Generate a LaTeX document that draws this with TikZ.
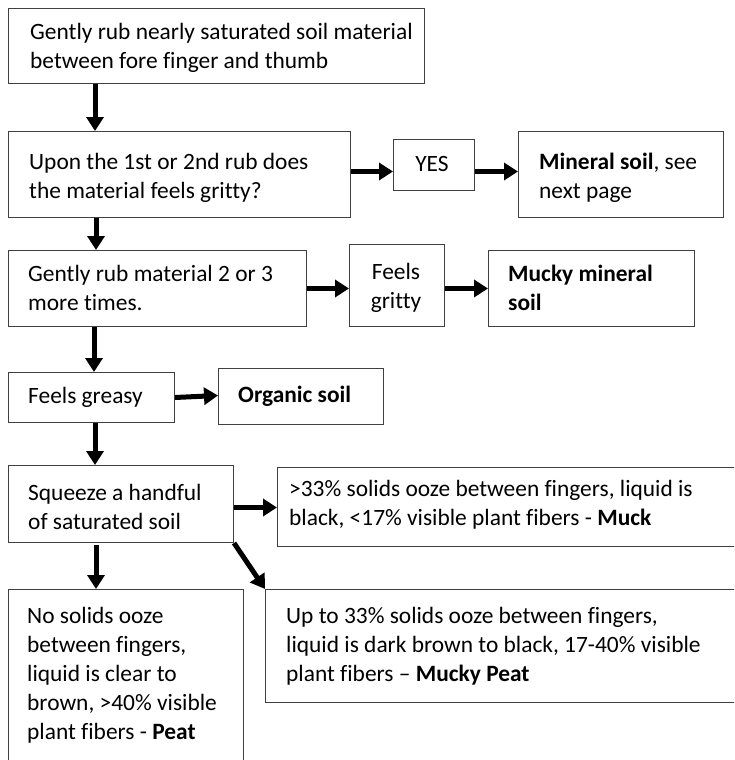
\documentclass[tikz,border=0pt]{standalone}
\usepackage{fontspec}
\setmainfont{Carlito}[Ligatures=CommonOff]
\usetikzlibrary{arrows.meta}
\begin{document}
\begin{tikzpicture}[x=1pt,y=-1pt,
  box/.style={draw=black!75, line width=1pt, rectangle, inner sep=0pt, anchor=north west},
  txt/.style={inner sep=0pt, align=left, anchor=west, font=\fontsize{23.4}{29}\selectfont},
  ctxt/.style={inner sep=0pt, align=center, anchor=center, font=\fontsize{23.4}{29}\selectfont},
  arr/.style={line width=5pt, -{Triangle[length=14pt,width=17pt]}}]
\useasboundingbox (0,0) rectangle (734,760);
\clip (0,0) rectangle (734,760);
% boxes
\node[box, minimum width=416pt, minimum height=75pt] (b1) at (8,8) {};
\node[box, minimum width=342pt, minimum height=86pt] (b2) at (8,131) {};
\node[box, minimum width=81pt, minimum height=51pt] (yes) at (393,139) {};
\node[box, minimum width=205pt, minimum height=86pt] (min) at (518,131) {};
\node[box, minimum width=298pt, minimum height=76pt] (b3) at (8,250) {};
\node[box, minimum width=95pt, minimum height=82pt] (grit) at (349,244) {};
\node[box, minimum width=206pt, minimum height=76pt] (mm) at (488,250) {};
\node[box, minimum width=166pt, minimum height=50pt] (b4) at (8,372) {};
\node[box, minimum width=165pt, minimum height=56pt] (org) at (218,368) {};
\node[box, minimum width=225pt, minimum height=77pt] (b5) at (8,465) {};
\node[box, minimum width=463pt, minimum height=79pt] (muck) at (277,467) {};
\node[box, minimum width=235pt, minimum height=190pt] (peat) at (8,589) {};
\node[box, minimum width=475pt, minimum height=113pt] (mp) at (265,589) {};
% texts
\node[txt] (t1) at (30,47.5) {Gently rub nearly saturated soil material\\between fore finger and thumb};
\node[txt] (t2) at (29,177.5) {Upon the 1st or 2nd rub does\\the material feels gritty?};
\node[ctxt] (tyes) at (432,164) {YES};
\node[txt] (tmin) at (539,177.5) {\textbf{Mineral soil}, see\\next page};
\node[txt] (t3) at (28,288) {Gently rub material 2 or 3\\more times.};
\node[ctxt] (tgrit) at (396,288) {Feels\\gritty};
\node[txt] (tmm) at (508,288) {\textbf{Mucky mineral}\\\textbf{soil}};
\node[txt] (t4) at (28,397) {Feels greasy};
\node[txt] (torg) at (238,396) {\textbf{Organic soil}};
\node[txt] (t5) at (28,506.5) {Squeeze a handful\\of saturated soil};
\node[txt] (tmuck) at (289,505) {>33\% solids ooze between fingers, liquid is\\black, <17\% visible plant fibers - \textbf{Muck}};
\node[txt] (tpeat) at (27,675) {No solids ooze\\between fingers,\\liquid is clear to\\brown, >40\% visible\\plant fibers - \textbf{Peat}};
\node[txt] (tmp) at (286,646) {Up to 33\% solids ooze between fingers,\\liquid is dark brown to black, 17-40\% visible\\plant fibers – \textbf{Mucky Peat}};
% arrows
\draw[arr] ([xshift=87pt]b1.south west) -- ([xshift=87pt]b2.north west);
\draw[arr] ([yshift=3pt]b2.east) -- ([yshift=-6.5pt]yes.west);
\draw[arr] ([yshift=-6.5pt]yes.east) -- ([yshift=3pt]min.west);
\draw[arr] ([xshift=88pt]b2.south west) -- ([xshift=88pt]b3.north west);
\draw[arr] (b3.east) -- ([yshift=-3pt]grit.west);
\draw[arr] ([yshift=-3pt]grit.east) -- (mm.west);
\draw[arr] ([xshift=86pt]b3.south west) -- ([xshift=86pt]b4.north west);
\draw[arr] (b4.east) -- ([yshift=1pt]org.west);
\draw[arr] ([xshift=87pt]b4.south west) -- ([xshift=87pt]b5.north west);
\draw[arr] ([yshift=-3.5pt]b5.east) -- ([yshift=-0.5pt]muck.west);
\draw[arr] ([xshift=88pt,yshift=-2pt]b5.south west) -- ([xshift=88pt]peat.north west);
\draw[arr] (b5.south east) -- (mp.north west);
\end{tikzpicture}
\end{document}
